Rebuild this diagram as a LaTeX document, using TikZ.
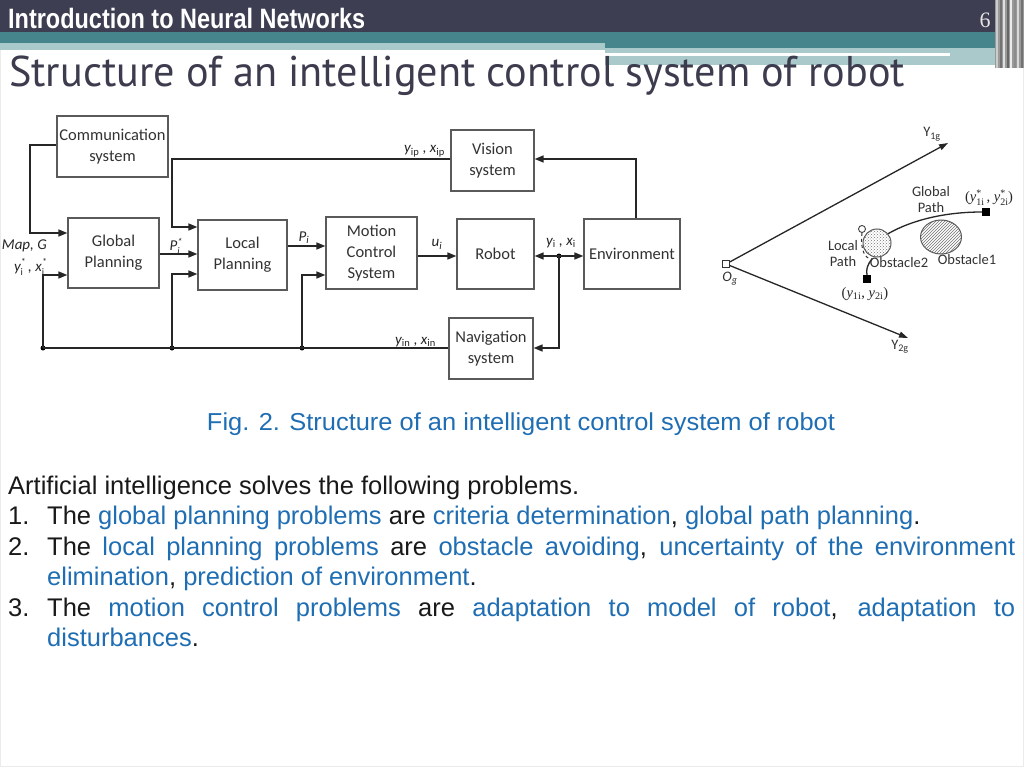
\documentclass[tikz,border=0pt]{standalone}
\usepackage{fontspec}
\usepackage{graphicx}
\usetikzlibrary{arrows.meta,patterns,shapes.geometric,calc}
\setmainfont{Liberation Sans}
\newfontfamily\calfont{Carlito}
\newfontfamily\serfont{Liberation Serif}
\newfontfamily\ptfont{PT Sans}
\definecolor{hdrdark}{HTML}{3E3E52}
\definecolor{tealband}{HTML}{45858B}
\definecolor{lightteal}{HTML}{A9C9CA}
\definecolor{titlecol}{HTML}{3C3C4E}
\definecolor{blueT}{HTML}{1F6EB4}
\definecolor{boxgray}{HTML}{5A5A5A}
\newcommand\bl[1]{\textcolor{blueT}{#1}}
\newcommand\stsub[2]{\raisebox{-4pt}{\fontsize{10}{12}\selectfont\shortstack[l]{#1\\#2}}}
\tikzset{
  box/.style={draw=boxgray, line width=1.3pt, fill=white, inner sep=0, align=center,
    font=\calfont\fontsize{16.5}{21}\selectfont, text=black!80},
  conn/.style={line width=1.6pt, draw=black!85},
  arr/.style={conn, -{Triangle[length=9pt,width=7pt]}},
  darr/.style={conn, {Triangle[length=9pt,width=7pt]}-{Triangle[length=9pt,width=7pt]}},
  jdot/.style={circle, fill=black, inner sep=0, minimum size=5pt},
  lab/.style={font=\calfont\itshape\fontsize{15}{17}\selectfont, inner sep=0, text=black!85},
  rlab/.style={font=\calfont\fontsize{14.5}{16}\selectfont, inner sep=0, text=black!80, align=center},
  slab/.style={font=\serfont\fontsize{14.5}{16}\selectfont, inner sep=0, text=black!85},
  axis/.style={line width=1.3pt, draw=black!85, -{Triangle[length=9pt,width=6pt]}},
  body/.style={anchor=base west, inner sep=0, font=\fontsize{25.5}{30}\selectfont, text=black!90}
}
\begin{document}
\begin{tikzpicture}[x=1pt,y=-1pt]
\useasboundingbox (0,0) rectangle (1024,767);
\fill[white] (0,0) rectangle (1024,767);
\draw[black!8, line width=1pt] (0.5,0.5) rectangle (1023.5,766);
% header bands
\fill[hdrdark] (0,0) rectangle (1024,32);
\fill[tealband] (0,32) rectangle (1024,48);
\fill[lightteal] (0,43) rectangle (605,50);
\fill[lightteal] (605,48) rectangle (1007,65);
\fill[white] (605,53) rectangle (950,56);
% right stripes
\fill[black!40] (995,0) rectangle (1024,68);
\foreach \xx/\cc in {996/black!20, 1000/black!55, 1003/black!12, 1007/black!60, 1010/black!8, 1014/black!45, 1017/black!15, 1021/black!55}
  \fill[\cc] (\xx,0) rectangle ++(2,68);
\node[anchor=base west, inner sep=0, text=white] (hdr) at (8,29)
  {\resizebox{357pt}{\height}{\fontsize{28}{30}\selectfont\bfseries Introduction to Neural Networks}};
\node[anchor=base, inner sep=0, text=black!10] (pg) at (985,28) {\serfont\fontsize{22}{24}\selectfont 6};
\node[anchor=base west, inner sep=0, text=titlecol] (title) at (9,87)
  {\resizebox{896pt}{\height}{\ptfont\fontsize{43}{45}\selectfont Structure of an intelligent control system of robot}};

% ---- block diagram ----
\node[box, minimum width=111pt, minimum height=61pt] (comm) at (112.5,146.5) {Communication\\system};
\node[box, minimum width=91pt, minimum height=70pt] (glob) at (113.5,253) {Global\\Planning};
\node[box, minimum width=89pt, minimum height=70pt] (loc) at (242.5,255) {Local\\Planning};
\node[box, minimum width=91pt, minimum height=72pt] (mot) at (371.5,253) {Motion\\Control\\System};
\node[box, minimum width=77pt, minimum height=70pt] (rob) at (495.5,254) {Robot};
\node[box, minimum width=96pt, minimum height=70pt] (env) at (632,254) {Environment};
\node[box, minimum width=83pt, minimum height=61pt] (vis) at (492.5,160.5) {Vision\\system};
\node[box, minimum width=84pt, minimum height=61pt] (nav) at (491,348.5) {Navigation\\system};

\coordinate (c1) at (30,145);
\coordinate (c2) at (30,233);
\draw[arr] (comm.west |- c1) -- (c1) -- (c2) -- (glob.west |- c2);

\node[jdot] (d1) at (43,348) {};
\node[jdot] (d2) at (172,348) {};
\node[jdot] (d3) at (302,348) {};
\draw[conn] (d1.center) -- (nav.west |- d1);
\draw[arr] (d1.center) -- (43,275) -- (glob.west |- 0,275);
\draw[arr] (d2.center) -- (172,274) -- (loc.west |- 0,274);
\draw[arr] (d3.center) -- (302,275) -- (mot.west |- 0,275);

\draw[arr] (glob.east |- 0,254) -- (loc.west |- 0,254);
\coordinate (t1) at (172,159);
\draw[arr] (vis.west |- t1) -- (t1) -- (172,227) -- (loc.west |- 0,227);
\draw[arr] (loc.east |- 0,246) -- (mot.west |- 0,246);
\draw[arr] (mot.east |- 0,256) -- (rob.west |- 0,256);
\node[jdot] (d4) at (559,256) {};
\draw[darr] (rob.east |- d4) -- (env.west |- d4);
\draw[arr] (d4.center) -- (559,348) -- (nav.east |- 0,348);
\coordinate (t2) at (636,159);
\draw[arr] (env.north -| t2) -- (t2) -- (vis.east |- t2);

% labels
\node[lab, anchor=base east] (lmap) at (47,249) {Map, G};
\node[lab, anchor=base east] (lyx) at (47,271) {y\stsub{*}{\upshape i}\,, x\stsub{*}{\upshape i}};
\node[lab, anchor=base] (lps) at (176,251) {P\stsub{*}{i}};
\node[lab, anchor=base] (lpi) at (304,241) {P\textsubscript{i}};
\node[lab, anchor=base] (lui) at (437,247) {u\textsubscript{i}};
\node[lab, anchor=base] (lyi) at (561,245) {y\textsubscript{\upshape i} , x\textsubscript{\upshape i}};
\node[lab, anchor=base east] (lyp) at (445,153) {y\textsubscript{\upshape ip} , x\textsubscript{\upshape ip}};
\node[lab, anchor=base east] (lyn) at (436,344) {y\textsubscript{\upshape in} , x\textsubscript{\upshape in}};

% ---- right diagram ----
\node[draw=black!80, fill=white, line width=0.8pt, minimum size=7pt, inner sep=0] (Og) at (726,264) {};
\coordinate (Y1) at (948,143);
\coordinate (Y2) at (908,338);
\draw[axis] (Og) -- (Y1);
\draw[axis] (Og) -- (Y2);
\node[rlab, anchor=base] (ly1) at (932,137) {Y\textsubscript{1g}};
\node[rlab, anchor=base] (ly2) at (900,349) {Y\textsubscript{2g}};
\node[rlab, anchor=base, font=\calfont\itshape\fontsize{14.5}{16}\selectfont] (log) at (730,281) {O\textsubscript{g}};

\node[ellipse, draw=black!65, line width=1pt, pattern=north east lines, pattern color=black!55,
  minimum width=41pt, minimum height=34pt, inner sep=0] (obs1) at (941,237) {};
\node[circle, draw=black!65, line width=1pt, pattern=crosshatch dots, pattern color=black!55,
  minimum size=28pt, inner sep=0] (obs2) at (877,243) {};
\node[circle, draw=black!75, line width=0.9pt, fill=white, minimum size=7pt, inner sep=0] (lp0) at (862,229) {};
\node[fill=black, minimum size=8pt, inner sep=0] (gq) at (986,212) {};
\node[fill=black, minimum size=8pt, inner sep=0] (lq) at (867,279) {};
\coordinate (lpm) at (872,259);
\draw[line width=1.3pt, black!85] (obs2.40) .. controls (912,220) and (945,212) .. (gq.west);
\draw[dashed, line width=1pt, black!80] (lp0.south) .. controls (860,250) and (865,259) .. (lpm);
\draw[line width=1.3pt, black!85] (lpm) .. controls (867,265) and (866,270) .. (lq.north);

\node[rlab] (lgp) at (931,200) {Global\\Path};
\node[rlab] (llp) at (843,254) {Local\\Path};
\node[rlab, anchor=base] (lo2) at (899,267) {Obstacle2};
\node[rlab, anchor=base] (lo1) at (967,264) {Obstacle1};
\node[slab, anchor=base] (lgq) at (989,202) {(\textit{y}\stsub{*}{1i}\,, \textit{y}\stsub{*}{2i})};
\node[slab, anchor=base] (llq) at (865,297) {(\textit{y}\textsubscript{1i}, \textit{y}\textsubscript{2i})};

% ---- caption and text ----
\node[anchor=base, inner sep=0, text=blueT] (cap) at (521,430)
  {\resizebox{628pt}{\height}{\fontsize{24.5}{26}\selectfont Fig. 2. Structure of an intelligent control system of robot}};

\node[body] (b0) at (8,494) {Artificial intelligence solves the following problems.};
\node[body] (n1) at (8,524.5) {1.};
\node[body] (b1) at (47,524.5) {The \bl{global planning problems} are \bl{criteria determination}, \bl{global path planning}.};
\node[body] (n2) at (8,555) {2.};
\node[body] (b2) at (47,555) {\makebox[968pt][s]{The \bl{local planning problems} are \bl{obstacle avoiding}, \bl{uncertainty of the environment}}};
\node[body] (b3) at (47,585.5) {\bl{elimination}, \bl{prediction of environment}.};
\node[body] (n3) at (8,616) {3.};
\node[body] (b4) at (47,616) {\makebox[968pt][s]{The \bl{motion control problems} are \bl{adaptation to model of robot}, \bl{adaptation to}}};
\node[body] (b5) at (47,646.5) {\bl{disturbances}.};
\end{tikzpicture}
\end{document}
